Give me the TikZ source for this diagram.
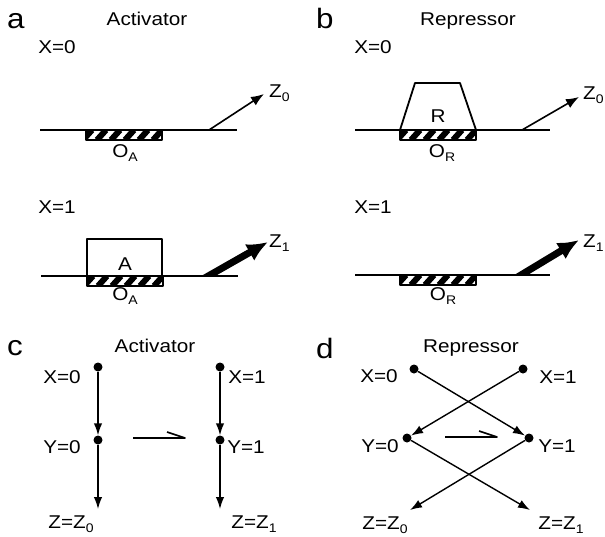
\documentclass[tikz,border=0pt]{standalone}
\usepackage{fontspec}
\setmainfont{Liberation Sans}[FakeStretch=1.12]
\usetikzlibrary{arrows.meta}

% lowered small index, as in Z_0 and O_A
\newcommand{\subtxt}[1]{\raisebox{-4pt}{\fontsize{12.5}{12}\selectfont #1}}

\tikzset{
  lbl/.style={font=\fontsize{18.5}{20}\selectfont, inner sep=0pt, anchor=base},
  panel/.style={font=\fontsize{28}{30}\selectfont, inner sep=0pt, anchor=base west},
  dna/.style={line width=1.8pt, line cap=butt},
  dot/.style={circle, fill, inner sep=0pt, minimum size=9pt},
  flow/.style={line width=1.4pt, -{Latex[length=12pt,width=8.5pt]}},
  weak/.style={line width=1.6pt, -{Latex[length=13pt,width=10pt]}},
  strong/.style={line width=7pt, line cap=butt, -{Latex[length=21pt,width=19pt]}},
}

\begin{document}
\begin{tikzpicture}[x=1pt, y=-1pt, line join=round]
  \useasboundingbox (0,0) rectangle (605,536);

  % panel headings
  \node[panel] (pa) at (7,28) {a};
  \node[panel] (pb) at (316,28) {b};
  \node[panel] (pc) at (7,355) {c};
  \node[panel] (pd) at (316,358) {d};
  \node[lbl] (ta) at (147,25) {Activator};
  \node[lbl] (tb) at (468,25) {Repressor};
  \node[lbl] (tc) at (155,352) {Activator};
  \node[lbl] (td) at (471,352) {Repressor};

  % input states
  \node[lbl] (xa0) at (57,53) {X=0};
  \node[lbl] (xa1) at (57,213) {X=1};
  \node[lbl] (xb0) at (373,53) {X=0};
  \node[lbl] (xb1) at (373,213) {X=1};

  % DNA strands
  \draw[dna] (40,130) -- (237,130);
  \draw[dna] (41,276) -- (238,276);
  \draw[dna] (355,130) -- (550,130);
  \draw[dna] (355,275) -- (550,275);

  % activator and repressor proteins
  \draw[dna] (87,276) rectangle (162,239);
  \node[lbl] (prA) at (125,270) {A};
  \draw[dna] (400,130) -- (415,83) -- (460,83) -- (476,130);
  \node[lbl] (prR) at (438,122) {R};

  % operator sites (hatched)
  \foreach \bx/\by in {86/130, 87/276, 400/130, 400/275}{
    \begin{scope}
      \clip (\bx,\by) rectangle ({\bx+76},{\by+10});
      \foreach \i in {0,...,5}
        \draw[line width=6pt, line cap=butt] ({\bx-3+14*\i},{\by+10}) -- ({\bx+6+14*\i},\by);
    \end{scope}
    \draw[dna, fill=none] (\bx,\by) rectangle ({\bx+76},{\by+10});
  }
  \node[lbl] (oa0) at (125,157) {O\subtxt{A}};
  \node[lbl] (oa1) at (125,300) {O\subtxt{A}};
  \node[lbl] (or0) at (442,157) {O\subtxt{R}};
  \node[lbl] (or1) at (443,300) {O\subtxt{R}};

  % transcription output
  \draw[weak] (209,130) -- (264,94);
  \draw[weak] (522,130) -- (579,97);
  \begin{scope}
    \clip (190,276) rectangle (300,200);
    \draw[strong] (203,279) -- (268,242);
  \end{scope}
  \begin{scope}
    \clip (505,275) rectangle (600,200);
    \draw[strong] (516,278) -- (579,240);
  \end{scope}
  \node[lbl, anchor=base west] (za0) at (269,97) {Z\subtxt{0}};
  \node[lbl, anchor=base west] (za1) at (269,247) {Z\subtxt{1}};
  \node[lbl, anchor=base west] (zb0) at (583,99) {Z\subtxt{0}};
  \node[lbl, anchor=base west] (zb1) at (583,247) {Z\subtxt{1}};

  % panel c: activator logic
  \node[dot] (cx0) at (98,367) {};
  \node[dot] (cy0) at (98,440) {};
  \coordinate (cz0) at (98,509);
  \node[dot] (cx1) at (220,367) {};
  \node[dot] (cy1) at (220,440) {};
  \coordinate (cz1) at (220,509);
  \draw[flow] (cx0) -- (cy0);
  \draw[flow] (cy0) -- (cz0);
  \draw[flow] (cx1) -- (cy1);
  \draw[flow] (cy1) -- (cz1);
  \node[lbl] (lcx0) at (62,383) {X=0};
  \node[lbl] (lcy0) at (62,453) {Y=0};
  \node[lbl] (lcz0) at (71,528) {Z=Z\subtxt{0}};
  \node[lbl] (lcx1) at (247,383) {X=1};
  \node[lbl] (lcy1) at (246,453) {Y=1};
  \node[lbl] (lcz1) at (254,528) {Z=Z\subtxt{1}};
  \draw[line width=1.6pt] (133,438) -- (185,438) -- (167,432);

  % panel d: repressor logic
  \node[dot] (dx0) at (414,369) {};
  \node[dot] (dx1) at (523,369) {};
  \node[dot] (dy0) at (407,438) {};
  \node[dot] (dy1) at (529,438) {};
  \coordinate (dz0) at (410,510);
  \coordinate (dz1) at (530,510);
  \draw[flow] (dx0) -- (dy1);
  \draw[flow] (dx1) -- (dy0);
  \draw[flow] (dy0) -- (dz1);
  \draw[flow] (dy1) -- (dz0);
  \node[lbl] (ldx0) at (379,382) {X=0};
  \node[lbl] (ldx1) at (558,383) {X=1};
  \node[lbl] (ldy0) at (380,452) {Y=0};
  \node[lbl] (ldy1) at (557,452) {Y=1};
  \node[lbl] (ldz0) at (385,529) {Z=Z\subtxt{0}};
  \node[lbl] (ldz1) at (561,529) {Z=Z\subtxt{1}};
  \draw[line width=1.6pt] (445,437) -- (497,437) -- (479,431);
\end{tikzpicture}
\end{document}
